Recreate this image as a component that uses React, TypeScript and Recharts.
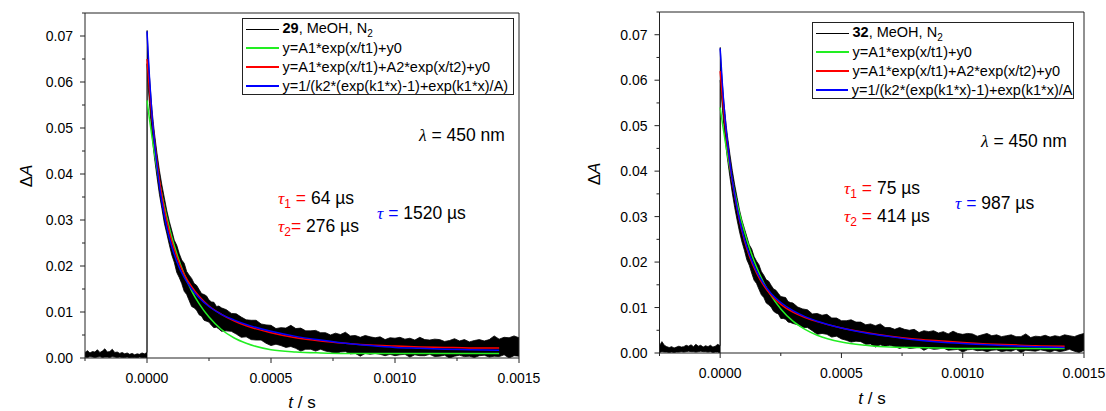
import { ComposedChart, Area, Line, XAxis, YAxis } from "recharts"

// time grids (µs)
const BAND_T_US = [
  -250, -240, -230, -220, -210, -200, -190, -180, -170, -160, -150, -140, -130, -120, -110, -100, -90, -80, -70, -60, -50, -40, -30, -20, -10, 0,
  0.5, 5, 10, 15, 20, 25, 30, 40, 50, 60, 70, 80, 90, 100, 110, 120, 130, 140, 150, 160, 170, 180, 190, 200, 210, 220, 230, 240, 250, 260, 270, 280, 290, 300,
  320, 340, 360, 380, 400, 420, 440, 460, 480, 500, 520, 540, 560, 580, 600, 620, 640, 660, 680, 700,
  720, 740, 760, 780, 800, 820, 840, 860, 880, 900, 920, 940, 960, 980, 1000, 1020, 1040, 1060, 1080, 1100,
  1120, 1140, 1160, 1180, 1200, 1220, 1240, 1260, 1280, 1300, 1320, 1340, 1360, 1380, 1400, 1420, 1440, 1460, 1480, 1500,
]
const FIT_T_US = [0, 10, 20, 30, 40, 50, 60, 80, 100, 120, 150, 180, 210, 250, 300, 350, 400, 500, 600, 700, 800, 900, 1000, 1100, 1200, 1300, 1420]

// compound 29 – measured trace (noise envelope)
const LOW_29 = [
  0.0002, 0.0001, 0.0003, 0.0002, 0.0001, 0.0002, 0.0003, 0.0001, 0.0002, 0.0002, 0.0001, 0.0003, 0.0002, 0.0001, 0.0002, 0.0001, 0.0001, 0.0002, 0.0000, 0.0001, 0.0001, 0.0000, 0.0002, 0.0001, 0.0001, 0.0000,
  0.0640, 0.0588, 0.0553, 0.0518, 0.0488, 0.0460, 0.0436, 0.0395, 0.0356, 0.0325, 0.0293, 0.0270, 0.0246,
  0.0224, 0.0208, 0.0186, 0.0175, 0.0162, 0.0145, 0.0138, 0.0125, 0.0112, 0.0109, 0.0104, 0.0094, 0.0091, 0.0082, 0.0080, 0.0078, 0.0071, 0.0066, 0.0067, 0.0063, 0.0058,
  0.0059, 0.0058, 0.0052, 0.0045, 0.0046, 0.0040, 0.0039, 0.0039, 0.0032, 0.0027, 0.0030, 0.0027, 0.0023, 0.0025, 0.0021, 0.0015, 0.0019, 0.0019, 0.0015, 0.0019,
  0.0015, 0.0013, 0.0010, 0.0013, 0.0014, 0.0009, 0.0010, 0.0004, 0.0010, 0.0008, 0.0010, 0.0008, 0.0005, 0.0008, 0.0005, 0.0007, 0.0008, 0.0002, 0.0007, 0.0005,
  0.0005, 0.0008, 0.0003, 0.0004, 0.0006, 0.0000, 0.0004, 0.0006, 0.0003, 0.0004, 0.0001, 0.0005, 0.0006, 0.0002, 0.0004, 0.0003, 0.0007, 0.0000, 0.0005, 0.0004,
]
const HIGH_29 = [
  0.0012, 0.0016, 0.0011, 0.0014, 0.0013, 0.0018, 0.0012, 0.0015, 0.0020, 0.0013, 0.0014, 0.0019, 0.0012, 0.0013, 0.0010, 0.0012, 0.0009, 0.0011, 0.0008, 0.0010, 0.0007, 0.0009, 0.0008, 0.0011, 0.0009, 0.0012,
  0.0712, 0.0652, 0.0612, 0.0574, 0.0541, 0.0514, 0.0489, 0.0446, 0.0408, 0.0376, 0.0348, 0.0320, 0.0297,
  0.0277, 0.0256, 0.0245, 0.0227, 0.0213, 0.0206, 0.0188, 0.0180, 0.0173, 0.0162, 0.0158, 0.0149, 0.0140, 0.0138, 0.0135, 0.0126, 0.0122, 0.0121, 0.0112, 0.0113, 0.0109,
  0.0105, 0.0097, 0.0096, 0.0089, 0.0083, 0.0082, 0.0082, 0.0074, 0.0072, 0.0071, 0.0064, 0.0066, 0.0065, 0.0071, 0.0064, 0.0065, 0.0059, 0.0059, 0.0060, 0.0055,
  0.0055, 0.0050, 0.0054, 0.0051, 0.0056, 0.0048, 0.0049, 0.0045, 0.0049, 0.0046, 0.0044, 0.0046, 0.0040, 0.0044, 0.0043, 0.0045, 0.0041, 0.0043, 0.0039, 0.0045,
  0.0040, 0.0039, 0.0041, 0.0040, 0.0036, 0.0038, 0.0042, 0.0037, 0.0040, 0.0035, 0.0038, 0.0040, 0.0037, 0.0040, 0.0048, 0.0041, 0.0045, 0.0044, 0.0048, 0.0044,
]
// compound 29 – fits
const GREEN_29 = [0.056, 0.0519, 0.0481, 0.0446, 0.0413, 0.0383, 0.0355, 0.0306, 0.0263, 0.0227, 0.0182, 0.0146, 0.0118, 0.0089, 0.0062, 0.0044, 0.0032, 0.0018, 0.0013, 0.0011, 0.0010, 0.0010, 0.0010, 0.0010, 0.0010, 0.0010, 0.0010]
const RED_29 = [0.065, 0.0582, 0.0523, 0.0471, 0.0427, 0.0388, 0.0353, 0.0298, 0.0254, 0.0220, 0.0182, 0.0155, 0.0134, 0.0113, 0.0095, 0.0081, 0.0070, 0.0055, 0.0044, 0.0037, 0.0032, 0.0028, 0.0026, 0.0024, 0.0023, 0.0022, 0.0022]
const BLUE_29 = [0.071, 0.061, 0.053, 0.047, 0.042, 0.0375, 0.034, 0.0283, 0.0242, 0.0210, 0.0175, 0.0150, 0.0131, 0.0112, 0.0095, 0.0083, 0.0073, 0.0058, 0.0047, 0.0039, 0.0032, 0.0027, 0.0023, 0.0021, 0.0019, 0.0018, 0.0017]

// compound 32 – measured trace (noise envelope)
const LOW_32 = [
  0.0001, 0.0003, 0.0002, 0.0002, 0.0001, 0.0002, 0.0001, 0.0002, 0.0002, 0.0003, 0.0002, 0.0003, 0.0004, 0.0003, 0.0003, 0.0002, 0.0003, 0.0004, 0.0003, 0.0003, 0.0002, 0.0003, 0.0001, 0.0002, 0.0002, 0.0000,
  0.0600, 0.0568, 0.0533, 0.0503, 0.0476, 0.0450, 0.0428, 0.0388, 0.0352, 0.0320, 0.0292, 0.0266, 0.0244,
  0.0226, 0.0205, 0.0193, 0.0176, 0.0160, 0.0153, 0.0140, 0.0128, 0.0122, 0.0110, 0.0106, 0.0101, 0.0092, 0.0088, 0.0086, 0.0076, 0.0076, 0.0074, 0.0068, 0.0067, 0.0065,
  0.0062, 0.0056, 0.0056, 0.0049, 0.0041, 0.0043, 0.0041, 0.0035, 0.0037, 0.0031, 0.0028, 0.0024, 0.0026, 0.0025, 0.0019, 0.0020, 0.0013, 0.0018, 0.0015, 0.0017,
  0.0014, 0.0010, 0.0014, 0.0010, 0.0011, 0.0013, 0.0006, 0.0011, 0.0008, 0.0009, 0.0011, 0.0006, 0.0007, 0.0008, 0.0002, 0.0007, 0.0008, 0.0005, 0.0006, 0.0003,
  0.0006, 0.0007, 0.0003, 0.0005, 0.0004, 0.0008, 0.0001, 0.0006, 0.0005, 0.0004, 0.0007, 0.0005, 0.0002, 0.0006, 0.0003, 0.0005, 0.0008, 0.0004, 0.0001, 0.0006,
]
const HIGH_32 = [
  0.0016, 0.0025, 0.0017, 0.0014, 0.0012, 0.0014, 0.0011, 0.0013, 0.0015, 0.0013, 0.0014, 0.0017, 0.0015, 0.0018, 0.0014, 0.0019, 0.0015, 0.0017, 0.0013, 0.0016, 0.0014, 0.0017, 0.0013, 0.0015, 0.0019, 0.0016,
  0.0672, 0.0622, 0.0587, 0.0554, 0.0527, 0.0500, 0.0478, 0.0438, 0.0402, 0.0370, 0.0342, 0.0314, 0.0292,
  0.0274, 0.0256, 0.0238, 0.0229, 0.0212, 0.0202, 0.0194, 0.0179, 0.0171, 0.0161, 0.0158, 0.0149, 0.0141, 0.0138, 0.0131, 0.0124, 0.0123, 0.0122, 0.0113, 0.0111, 0.0110,
  0.0101, 0.0097, 0.0095, 0.0086, 0.0087, 0.0083, 0.0085, 0.0077, 0.0077, 0.0071, 0.0071, 0.0073, 0.0068, 0.0068, 0.0062, 0.0064, 0.0060, 0.0064, 0.0056, 0.0056,
  0.0052, 0.0056, 0.0052, 0.0050, 0.0052, 0.0045, 0.0049, 0.0047, 0.0049, 0.0044, 0.0047, 0.0042, 0.0048, 0.0043, 0.0041, 0.0043, 0.0042, 0.0037, 0.0040, 0.0043,
  0.0038, 0.0040, 0.0036, 0.0038, 0.0040, 0.0036, 0.0036, 0.0042, 0.0034, 0.0037, 0.0036, 0.0039, 0.0035, 0.0038, 0.0036, 0.0040, 0.0038, 0.0036, 0.0040, 0.0043,
]
// compound 32 – fits
const GREEN_32 = [0.054, 0.0503, 0.0469, 0.0436, 0.0407, 0.0379, 0.0353, 0.0307, 0.0267, 0.0232, 0.0189, 0.0154, 0.0126, 0.0097, 0.0070, 0.0052, 0.0039, 0.0024, 0.0017, 0.0013, 0.0012, 0.0011, 0.0010, 0.0010, 0.0010, 0.0010, 0.0010]
const RED_32 = [0.062, 0.0559, 0.0505, 0.0457, 0.0415, 0.0378, 0.0346, 0.0291, 0.0248, 0.0214, 0.0176, 0.0148, 0.0127, 0.0107, 0.0090, 0.0078, 0.0069, 0.0055, 0.0045, 0.0037, 0.0031, 0.0027, 0.0023, 0.0020, 0.0018, 0.0016, 0.0015]
const BLUE_32 = [0.067, 0.0585, 0.0518, 0.0464, 0.0419, 0.0381, 0.0348, 0.0293, 0.0251, 0.0218, 0.0180, 0.0152, 0.0131, 0.0111, 0.0093, 0.0080, 0.0070, 0.0055, 0.0044, 0.0036, 0.0029, 0.0024, 0.0021, 0.0018, 0.0016, 0.0014, 0.0012]

// axes
const X_DOMAIN = [-0.00025, 0.0015]
const Y_DOMAIN = [0, 0.075]
const X_TICKS = [-0.00025, 0, 0.00025, 0.0005, 0.00075, 0.001, 0.00125, 0.0015]
const Y_TICKS = [0, 0.005, 0.01, 0.015, 0.02, 0.025, 0.03, 0.035, 0.04, 0.045, 0.05, 0.055, 0.06, 0.065, 0.07, 0.075]
const MIRROR_X_TICKS = [-0.000075, 0.0001, 0.000275, 0.00045, 0.000625, 0.0008, 0.000975, 0.00115, 0.001325]
const MIRROR_Y_TICKS = [0.0075, 0.015, 0.0225, 0.03, 0.0375, 0.045, 0.0525, 0.06, 0.0675]

const LEGEND_FITS = [
  { color: "#22ee22", text: "y=A1*exp(x/t1)+y0" },
  { color: "#ff0000", text: "y=A1*exp(x/t1)+A2*exp(x/t2)+y0" },
  { color: "#0000ff", text: "y=1/(k2*(exp(k1*x)-1)+exp(k1*x)/A)" },
]

const FONT = "'Liberation Sans', Arial, Helvetica, sans-serif"
const SERIF = "'Liberation Serif', 'Times New Roman', serif"

const band = (low: number[], high: number[]) => BAND_T_US.map((us, i) => ({ t: us * 1e-6, range: [low[i], high[i]] }))
const fit = (vals: number[]) => FIT_T_US.map((us, i) => ({ t: us * 1e-6, v: vals[i] }))

function XTick(props: any) {
  const { x, y, payload } = props
  const v = payload.value as number
  const major = Math.abs(v / 0.0005 - Math.round(v / 0.0005)) < 1e-6
  return (
    <g>
      <line x1={x} x2={x} y1={y} y2={y + (major ? 5 : 3)} stroke="#222" />
      {major && (
        <text x={x} y={y + 25} textAnchor="middle" fontSize={14} fontFamily={FONT} fill="#000">
          {v.toFixed(4)}
        </text>
      )}
    </g>
  )
}

function YTick(props: any) {
  const { x, y, payload } = props
  const v = payload.value as number
  const major = Math.abs(v / 0.01 - Math.round(v / 0.01)) < 1e-6
  return (
    <g>
      <line x1={x - (major ? 5 : 3)} x2={x} y1={y} y2={y} stroke="#222" />
      {major && (
        <text x={x - 12} y={y + 5} textAnchor="end" fontSize={14} fontFamily={FONT} fill="#000">
          {v.toFixed(2)}
        </text>
      )}
    </g>
  )
}

type PanelProps = {
  left: number
  width: number
  margin: { top: number; right: number; bottom: number; left: number }
  bandData: { t: number; range: number[] }[]
  green: { t: number; v: number }[]
  red: { t: number; v: number }[]
  blue: { t: number; v: number }[]
}

function Panel({ left, width, margin, bandData, green, red, blue }: PanelProps) {
  return (
    <div style={{ position: "absolute", left, top: 0 }}>
      <ComposedChart width={width} height={411} margin={margin}>
        <XAxis
          dataKey="t"
          type="number"
          domain={X_DOMAIN}
          allowDataOverflow
          ticks={X_TICKS}
          interval={0}
          height={30}
          tickSize={0}
          tickMargin={0}
          tickLine={false}
          axisLine={{ stroke: "#222" }}
          tick={(p: any) => <XTick {...p} />}
        />
        <XAxis
          xAxisId="top"
          dataKey="t"
          orientation="top"
          type="number"
          domain={X_DOMAIN}
          allowDataOverflow
          ticks={MIRROR_X_TICKS}
          interval={0}
          height={1}
          mirror
          tickSize={2}
          tick={false}
          tickLine={{ stroke: "#555" }}
          axisLine={{ stroke: "#222" }}
        />
        <YAxis
          type="number"
          domain={Y_DOMAIN}
          allowDataOverflow
          ticks={Y_TICKS}
          interval={0}
          width={60}
          tickSize={0}
          tickMargin={0}
          tickLine={false}
          axisLine={{ stroke: "#222" }}
          tick={(p: any) => <YTick {...p} />}
        />
        <YAxis
          yAxisId="right"
          orientation="right"
          type="number"
          domain={Y_DOMAIN}
          allowDataOverflow
          ticks={MIRROR_Y_TICKS}
          interval={0}
          width={1}
          mirror
          tickSize={2}
          tick={false}
          tickLine={{ stroke: "#555" }}
          axisLine={{ stroke: "#222" }}
        />
        <Area
          data={bandData}
          dataKey="range"
          type="linear"
          stroke="#000"
          strokeWidth={0.8}
          fill="#000"
          fillOpacity={1}
          dot={false}
          activeDot={false}
          isAnimationActive={false}
        />
        <Line data={green} xAxisId="top" yAxisId="right" dataKey="v" type="monotone" stroke="#22ee22" strokeWidth={1.5} dot={false} activeDot={false} isAnimationActive={false} />
        <Line data={red} dataKey="v" type="monotone" stroke="#ff0000" strokeWidth={1.5} dot={false} activeDot={false} isAnimationActive={false} />
        <Line data={blue} dataKey="v" type="monotone" stroke="#0000ff" strokeWidth={1.5} dot={false} activeDot={false} isAnimationActive={false} />
      </ComposedChart>
    </div>
  )
}

function LegendBox({ left, top, width, compound, fits }: { left: number; top: number; width: number; compound: string; fits: { color: string; text: string }[] }) {
  const row = { display: "flex", alignItems: "center", height: 19 }
  const sample = (color: string, w: number) => (
    <div style={{ width: 33, marginLeft: 3, marginRight: 4, borderTop: `${w}px solid ${color}` }} />
  )
  return (
    <div
      style={{
        position: "absolute",
        left,
        top,
        width,
        height: 77,
        border: "1.3px solid #222",
        background: "#fff",
        boxSizing: "border-box",
        paddingTop: 1,
        fontFamily: FONT,
        fontSize: 14.5,
        color: "#000",
        whiteSpace: "nowrap",
      }}
    >
      <div style={row}>
        {sample("#000", 1)}
        <span>
          <b>{compound}</b>, MeOH, N<sub style={{ fontSize: 10, verticalAlign: -4 }}>2</sub>
        </span>
      </div>
      {fits.map((f) => (
        <div key={f.text} style={row}>
          {sample(f.color, 2)}
          <span>{f.text}</span>
        </div>
      ))}
    </div>
  )
}

function Note({ left, cy, children }: { left: number; cy: number; children: any }) {
  return (
    <div style={{ position: "absolute", left, top: cy - 11, lineHeight: "22px", fontFamily: FONT, fontSize: 17.5, whiteSpace: "nowrap", color: "#000" }}>
      {children}
    </div>
  )
}

const Tau = ({ color, sub }: { color: string; sub?: string }) => (
  <span style={{ color }}>
    <i style={{ fontFamily: SERIF }}>τ</i>
    {sub && <sub style={{ fontSize: 12, verticalAlign: -4 }}>{sub}</sub>}
  </span>
)

function AxisTitles({ yx, yy, tx, ty }: { yx: number; yy: number; tx: number; ty: number }) {
  return (
    <>
      <div style={{ position: "absolute", left: yx - 20, top: yy - 11, width: 40, textAlign: "center", lineHeight: "22px", transform: "rotate(-90deg)", fontFamily: FONT, fontSize: 17 }}>
        Δ<i>A</i>
      </div>
      <div style={{ position: "absolute", left: tx - 30, top: ty - 11, width: 60, textAlign: "center", lineHeight: "22px", fontFamily: FONT, fontSize: 17 }}>
        <i>t</i> / s
      </div>
    </>
  )
}

export default function App() {
  return (
    <div style={{ position: "absolute", left: 0, top: 0, width: 1106, height: 411, background: "#fff", overflow: "hidden" }}>
      <Panel
        left={0}
        width={560}
        margin={{ top: 13, right: 41, bottom: 23, left: 25 }}
        bandData={band(LOW_29, HIGH_29)}
        green={fit(GREEN_29)}
        red={fit(RED_29)}
        blue={fit(BLUE_29)}
      />
      <Panel
        left={560}
        width={546}
        margin={{ top: 12, right: 22, bottom: 28, left: 39.5 }}
        bandData={band(LOW_32, HIGH_32)}
        green={fit(GREEN_32)}
        red={fit(RED_32)}
        blue={fit(BLUE_32)}
      />

      <LegendBox left={241.5} top={17.5} width={272} compound="29" fits={LEGEND_FITS} />
      <LegendBox
        left={811.5}
        top={21.5}
        width={262}
        compound="32"
        fits={LEGEND_FITS.map((f, i) => (i === 2 ? { ...f, text: "y=1/(k2*(exp(k1*x)-1)+exp(k1*x)/A" } : f))}
      />

      <AxisTitles yx={27} yy={176} tx={302} ty={403} />
      <AxisTitles yx={595} yy={174} tx={872} ty={399} />

      <Note left={419} cy={135}>
        <i style={{ fontFamily: SERIF }}>λ</i> = 450 nm
      </Note>
      <Note left={278} cy={198}>
        <Tau color="#ff0000" sub="1" /> <span style={{ color: "#ff0000" }}>=</span> 64 µs
      </Note>
      <Note left={278} cy={226}>
        <Tau color="#ff0000" sub="2" />
        <span style={{ color: "#ff0000" }}>=</span> 276 µs
      </Note>
      <Note left={377} cy={213}>
        <Tau color="#0000ff" /> <span style={{ color: "#0000ff" }}>=</span> 1520 µs
      </Note>

      <Note left={981} cy={141}>
        <i style={{ fontFamily: SERIF }}>λ</i> = 450 nm
      </Note>
      <Note left={844} cy={188}>
        <Tau color="#ff0000" sub="1" /> <span style={{ color: "#ff0000" }}>=</span> 75 µs
      </Note>
      <Note left={844} cy={216}>
        <Tau color="#ff0000" sub="2" /> <span style={{ color: "#ff0000" }}>=</span> 414 µs
      </Note>
      <Note left={955} cy={203}>
        <Tau color="#0000ff" /> <span style={{ color: "#0000ff" }}>=</span> 987 µs
      </Note>
    </div>
  )
}
